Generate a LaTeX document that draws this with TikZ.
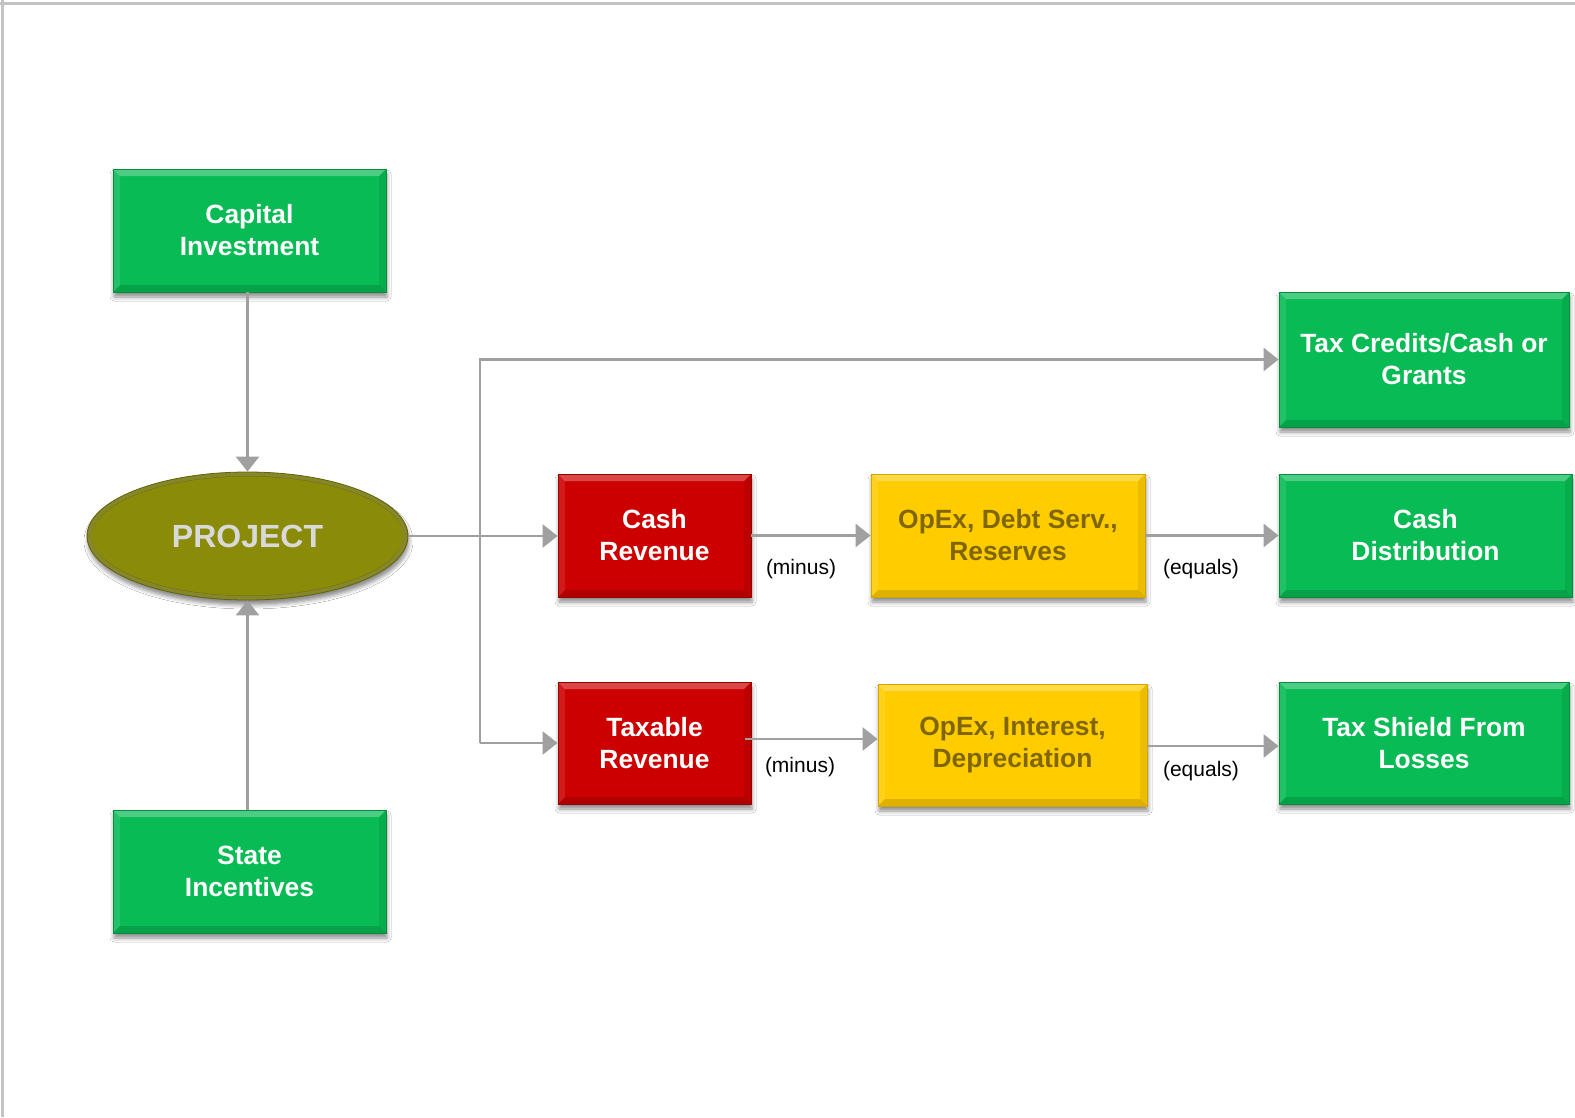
\documentclass[tikz,border=0pt]{standalone}
\usepackage{fontspec}
\setmainfont{Liberation Sans}
\usetikzlibrary{shapes.geometric,arrows.meta,shadows.blur}

\definecolor{gfill}{RGB}{8,187,84}
\definecolor{gdark}{RGB}{6,140,62}
\definecolor{rfill}{RGB}{204,0,0}
\definecolor{rdark}{RGB}{150,0,0}
\definecolor{yfill}{RGB}{255,204,0}
\definecolor{ydark}{RGB}{210,165,0}
\definecolor{ytext}{RGB}{127,102,0}
\definecolor{olivefill}{RGB}{139,139,10}
\definecolor{olivedark}{RGB}{100,100,5}
\definecolor{ptext}{RGB}{217,217,217}
\definecolor{linegray}{RGB}{160,160,160}
\definecolor{framegray}{RGB}{195,195,195}

\begin{document}
\begin{tikzpicture}[x=1pt,y=-1pt,
  bevel/.style={path picture={
    \fill[white,opacity=.28] (path picture bounding box.north west) -- (path picture bounding box.north east)
      -- ([shift={(-#1,-#1)}]path picture bounding box.north east) -- ([shift={(#1,-#1)}]path picture bounding box.north west) -- cycle;
    \fill[white,opacity=.10] (path picture bounding box.north west) -- ([shift={(#1,-#1)}]path picture bounding box.north west)
      -- ([shift={(#1,#1)}]path picture bounding box.south west) -- (path picture bounding box.south west) -- cycle;
    \fill[black,opacity=.08] (path picture bounding box.north east) -- (path picture bounding box.south east)
      -- ([shift={(-#1,#1)}]path picture bounding box.south east) -- ([shift={(-#1,-#1)}]path picture bounding box.north east) -- cycle;
    \fill[black,opacity=.13] (path picture bounding box.south west) -- (path picture bounding box.south east)
      -- ([shift={(-#1,#1)}]path picture bounding box.south east) -- ([shift={(#1,#1)}]path picture bounding box.south west) -- cycle;
  }},
  softshadow/.style={blur shadow={shadow xshift=1pt, shadow yshift=-5pt, shadow blur radius=4pt, shadow opacity=45}},
  base/.style={rectangle, inner sep=0pt, align=center, line width=0.8pt,
    font=\fontsize{26.4}{32}\selectfont\bfseries, bevel=7pt, softshadow},
  greenbox/.style={base, fill=gfill, draw=gdark, text=white},
  redbox/.style={base, fill=rfill, draw=rdark, text=white},
  yellowbox/.style={base, fill=yfill, draw=ydark, text=ytext},
  projshape/.style={ellipse, inner sep=0pt, fill=olivefill, draw=olivedark, line width=0.8pt,
    text=ptext, font=\fontsize{32}{36}\selectfont\bfseries, softshadow,
    path picture={
      \draw[black,opacity=.18,line width=9pt] (path picture bounding box.center) ellipse (160.5pt and 64pt);
      \draw[white,opacity=.15,line width=4pt] (path picture bounding box.center) ellipse (158pt and 62pt);
    }},
  conn/.style={draw=linegray, line width=2.5pt, -{Triangle[length=15pt,width=23pt]}},
  oplabel/.style={font=\fontsize{21}{24}\selectfont, text=black, inner sep=0pt}
]
\useasboundingbox (0,0) rectangle (1575,1117);
\fill[white] (0,0) rectangle (1575,1117);

% page frame (top and left edges)
\draw[framegray, line width=2.5pt] (0,3.5) -- (1575,3.5);
\draw[framegray, line width=2.5pt] (2.5,0) -- (2.5,1117);

% left column
\node[greenbox, minimum width=273pt, minimum height=123pt] (cap) at (249.5,230.5) {Capital\\Investment};
\node[greenbox, minimum width=273pt, minimum height=123pt] (state) at (249.5,871.5) {State\\Incentives};
\node[projshape, minimum width=321pt, minimum height=128pt] (proj) at (247.5,536) {PROJECT};

% middle columns
\node[redbox, minimum width=193pt, minimum height=123pt] (cashrev) at (654.5,535.5) {Cash\\Revenue};
\node[redbox, minimum width=193pt, minimum height=122pt] (taxrev) at (654.5,743) {Taxable\\Revenue};
\node[yellowbox, minimum width=274pt, minimum height=123pt] (opexd) at (1008,535.5) {OpEx, Debt Serv.,\\Reserves};
\node[yellowbox, minimum width=269pt, minimum height=122pt] (opexi) at (1012.5,745) {OpEx, Interest,\\Depreciation};

% right column
\node[greenbox, minimum width=290pt, minimum height=135pt] (taxcred) at (1424,359.5) {Tax Credits/Cash or\\Grants};
\node[greenbox, minimum width=293pt, minimum height=123pt] (cashdist) at (1425.5,535.5) {Cash\\Distribution};
\node[greenbox, minimum width=290pt, minimum height=122pt] (taxshield) at (1424,743) {Tax Shield From\\Losses};

% operator labels
\node[oplabel] (m1) at (801,569) {(minus)};
\node[oplabel] (e1) at (1201,569) {(equals)};
\node[oplabel] (m2) at (800,767) {(minus)};
\node[oplabel] (e2) at (1201,771) {(equals)};

% inputs into the project
\draw[conn] (proj |- cap.south) -- (proj.north);
\draw[conn] (proj |- state.north) -- (proj.south);

% distribution trunk
\coordinate (trunk) at (480,0);
\draw[conn] (proj.east) -- (proj.east -| cashrev.west);
\draw[conn] (trunk |- taxrev.west) -- (trunk |- taxcred.west) -- (taxcred.west);
\draw[conn] (trunk |- taxrev.west) -- (taxrev.west);

% cash flow chain
\draw[conn] (cashrev.east) -- (opexd.west);
\draw[conn] (opexd.east) -- (cashdist.west);

% taxable flow chain
\draw[conn] ([shift={(-6pt,4pt)}]taxrev.east) -- ([yshift=6pt]opexi.west);
\draw[conn] ([yshift=-1pt]opexi.east) -- ([yshift=-3pt]taxshield.west);
\end{tikzpicture}
\end{document}
